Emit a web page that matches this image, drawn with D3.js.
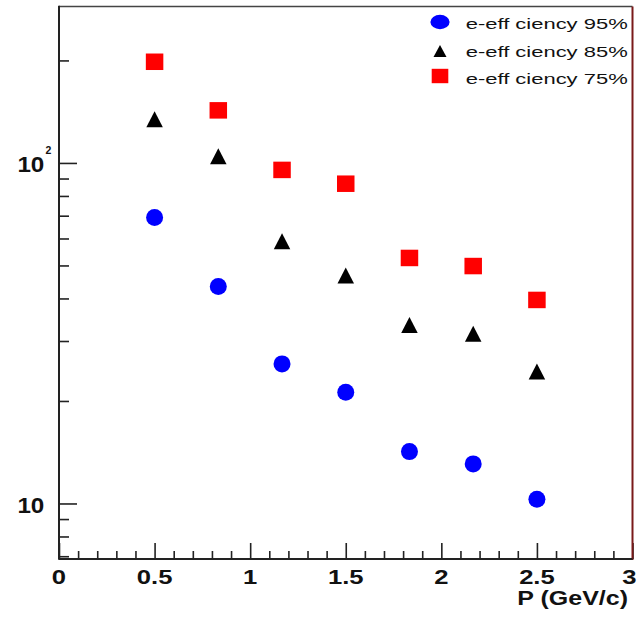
<!DOCTYPE html>
<html>
<head>
<meta charset="utf-8">
<script src="https://cdn.jsdelivr.net/npm/d3@7"></script>
<style>
  html, body { margin: 0; padding: 0; background: #fff; }
  svg { display: block; }
</style>
</head>
<body>
<svg id="chart" width="638" height="619"></svg>
<script>
// ---- data ----
const momentum = [0.5, 0.8333, 1.1667, 1.5, 1.8333, 2.1667, 2.5];
const eff95 = [69.1, 43.4, 25.7, 21.2, 14.2, 13.07, 10.29];
const eff85 = [134.3, 104.6, 58.9, 46.7, 33.4, 31.5, 24.4];
const eff75 = [198.2, 142.7, 95.4, 86.9, 52.6, 49.8, 39.6];
const seriesNames = ["e-eff ciency 95%", "e-eff ciency 85%", "e-eff ciency 75%"];
const xTickLabels = ["0", "0.5", "1", "1.5", "2", "2.5", "3"];
const xMajorTicks = [0, 0.5, 1, 1.5, 2, 2.5, 3];
const xMinorTicks = [0.1,0.2,0.3,0.4,0.6,0.7,0.8,0.9,1.1,1.2,1.3,1.4,1.6,1.7,1.8,1.9,2.1,2.2,2.3,2.4,2.6,2.7,2.8,2.9];
const yMajorTicks = [10, 100];
const yMinorTicks = [7, 8, 9, 20, 30, 40, 50, 60, 70, 80, 90, 200];
const xTitle = "P (GeV/c)";

const svg = d3.select("#chart");
const L = 59, R = 632.5, T = 6.5, B = 559;

const x = d3.scaleLinear().domain([0, 3]).range([L, R]);
const y = d3.scaleLog().domain([6.87, 288]).range([B, T]);

// ---- ticks via d3 axes ----
const axStyle = g => {
  g.select(".domain").remove();
  g.selectAll(".tick line").attr("stroke", "#222").attr("stroke-width", 1.6);
  g.selectAll(".tick text").remove();
};
svg.append("g").attr("transform", `translate(${L},0)`)
  .call(d3.axisRight(y).tickValues(yMinorTicks).tickSize(10).tickFormat(""))
  .call(axStyle);
svg.append("g").attr("transform", `translate(${L},0)`)
  .call(d3.axisRight(y).tickValues(yMajorTicks).tickSize(18).tickFormat(""))
  .call(axStyle);
svg.append("g").attr("transform", `translate(0,${B})`)
  .call(d3.axisTop(x).tickValues(xMinorTicks).tickSize(8).tickFormat(""))
  .call(axStyle);
svg.append("g").attr("transform", `translate(0,${B})`)
  .call(d3.axisTop(x).tickValues(xMajorTicks).tickSize(16).tickFormat(""))
  .call(axStyle);

// ---- frame ----
svg.append("line").attr("x1", L).attr("x2", R).attr("y1", T).attr("y2", T)
  .attr("stroke", "#444").attr("stroke-width", 1.6);
svg.append("line").attr("x1", R).attr("x2", R).attr("y1", T).attr("y2", B + 1)
  .attr("stroke", "#7a1a1a").attr("stroke-width", 2);
svg.append("line").attr("x1", L).attr("x2", L).attr("y1", T - 0.8).attr("y2", B + 0.8)
  .attr("stroke", "#222").attr("stroke-width", 2);
svg.append("line").attr("x1", L).attr("x2", R).attr("y1", B).attr("y2", B)
  .attr("stroke", "#222").attr("stroke-width", 2);

// ---- x tick labels ----
xMajorTicks.forEach((v, i) => {
  const last = i === xMajorTicks.length - 1;
  const px = last ? 636.5 : x(v);
  svg.append("g").attr("transform", `translate(${px},584) scale(1.22,1)`)
    .append("text").attr("text-anchor", last ? "end" : "middle")
    .attr("font-family", "Liberation Sans, Arial, sans-serif")
    .attr("font-weight", "bold").attr("font-size", 21).attr("fill", "#111")
    .text(xTickLabels[i]);
});
// x title
svg.append("g").attr("transform", `translate(628,604.5) scale(1.22,1)`)
  .append("text").attr("text-anchor", "end")
  .attr("font-family", "Liberation Sans, Arial, sans-serif")
  .attr("font-weight", "bold").attr("font-size", 20.5).attr("fill", "#111")
  .text(xTitle);

// ---- y tick labels ----
yMajorTicks.forEach(v => {
  const gy = y(v) + 9.5;
  svg.append("g").attr("transform", `translate(44.3,${gy}) scale(1.1,1)`)
    .append("text").attr("text-anchor", "end")
    .attr("font-family", "Liberation Sans, Arial, sans-serif")
    .attr("font-weight", "bold").attr("font-size", 22).attr("fill", "#111")
    .text("10");
  const exp = Math.round(Math.log10(v));
  if (exp > 1) {
    svg.append("text").attr("x", 45.5).attr("y", y(v) - 8.5)
      .attr("font-family", "Liberation Sans, Arial, sans-serif")
      .attr("font-weight", "bold").attr("font-size", 10.5).attr("fill", "#111")
      .text(String(exp));
  }
});

// ---- markers ----
const blue = "#0000ff", red = "#ff0000", black = "#000000";
const triPath = (w, h) => `M0,${-h/2} L${w/2},${h/2} L${-w/2},${h/2} Z`;

const pts = (vals) => momentum.map((m, i) => ({ m, v: vals[i] }));

svg.append("g").selectAll("circle").data(pts(eff95)).join("circle")
  .attr("cx", d => x(d.m)).attr("cy", d => y(d.v)).attr("r", 8.5).attr("fill", blue);

svg.append("g").selectAll("path").data(pts(eff85)).join("path")
  .attr("transform", d => `translate(${x(d.m)},${y(d.v)})`)
  .attr("d", triPath(16.5, 16)).attr("fill", black);

svg.append("g").selectAll("rect").data(pts(eff75)).join("rect")
  .attr("x", d => x(d.m) - 8.75).attr("y", d => y(d.v) - 8.25)
  .attr("width", 17.5).attr("height", 16.5).attr("fill", red);

// ---- legend ----
const legY = [22, 51, 76];
const legTextY = [28.5, 57, 83.5];
const lx = 440;
const leg = svg.append("g");
leg.append("ellipse").attr("cx", lx).attr("cy", legY[0]).attr("rx", 9.6).attr("ry", 7.2).attr("fill", blue);
leg.append("path").attr("transform", `translate(${lx},${legY[1]})`).attr("d", triPath(13, 12)).attr("fill", black);
leg.append("rect").attr("x", lx - 8.3).attr("y", legY[2] - 7.2).attr("width", 16.6).attr("height", 14.4).attr("fill", red);
seriesNames.forEach((s, i) => {
  leg.append("text").attr("x", 465.7).attr("y", legTextY[i])
    .attr("font-family", "Liberation Sans, Arial, sans-serif")
    .attr("font-size", 15.5).attr("fill", "#111")
    .attr("textLength", 162).attr("lengthAdjust", "spacingAndGlyphs")
    .text(s);
});
</script>
</body>
</html>
